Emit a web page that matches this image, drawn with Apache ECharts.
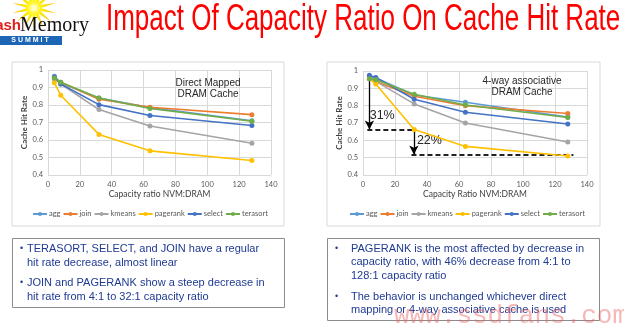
<!DOCTYPE html>
<html><head><meta charset="utf-8">
<script src="https://cdn.jsdelivr.net/npm/echarts@6/dist/echarts.min.js"></script>
<style>html,body{margin:0;padding:0;background:#fff}#c{width:624px;height:329px}</style>
</head><body><div id="c"></div>
<script>
// ---- data ----
const capacityRatios = [4, 8, 32, 64, 128];
const seriesNames = ['agg', 'join', 'kmeans', 'pagerank', 'select', 'terasort'];
const seriesColors = ['#5B9BD5', '#ED7D31', '#A5A5A5', '#FFC000', '#4472C4', '#70AD47'];
const xTicks = [0, 20, 40, 60, 80, 100, 120, 140];
const yTicks = [0.4, 0.5, 0.6, 0.7, 0.8, 0.9, 1];

// Direct mapped DRAM cache
const directAgg      = [0.965, 0.925, 0.840, 0.785, 0.710];
const directJoin     = [0.950, 0.930, 0.833, 0.787, 0.745];
const directKmeans   = [0.950, 0.920, 0.774, 0.680, 0.581];
const directPagerank = [0.927, 0.856, 0.632, 0.538, 0.483];
const directSelect   = [0.960, 0.920, 0.802, 0.740, 0.683];
const directTerasort = [0.955, 0.930, 0.840, 0.780, 0.707];

// 4-way associative DRAM cache
const assocAgg      = [0.965, 0.960, 0.862, 0.820, 0.735];
const assocJoin     = [0.955, 0.940, 0.854, 0.800, 0.755];
const assocKmeans   = [0.955, 0.940, 0.810, 0.700, 0.590];
const assocPagerank = [0.955, 0.925, 0.662, 0.565, 0.510];
const assocSelect   = [0.975, 0.963, 0.837, 0.762, 0.694];
const assocTerasort = [0.955, 0.950, 0.866, 0.804, 0.732];

// annotation values (right chart)
const drop1 = {x: 4, from: 0.955, to: 0.662, label: '31%', labelAt: [12, 0.742]};
const drop2 = {x: 31.8, from: 0.662, to: 0.518, label: '22%', labelAt: [41.5, 0.596]};
const dash1 = {from: 2.7, to: 32.8, y: 0.662};
const dash2 = {from: 30.3, to: 131.5, y: 0.518};

const directSets = [directAgg, directJoin, directKmeans, directPagerank, directSelect, directTerasort];
const assocSets  = [assocAgg, assocJoin, assocKmeans, assocPagerank, assocSelect, assocTerasort];

const chartFont = 'Lato';
const bodyBlue = '#1F3A93';

function pairs(vals) { return capacityRatios.map((x, i) => [x, vals[i]]); }

function lineSeries(vals, i, axisIdx) {
  return {
    type: 'line', name: seriesNames[i], xAxisIndex: axisIdx, yAxisIndex: axisIdx,
    data: pairs(vals), color: seriesColors[i],
    symbol: 'circle', symbolSize: 5, showSymbol: true,
    lineStyle: {width: 1.6}, emphasis: {disabled: true}, z: 2 + i
  };
}

const series = [];
directSets.forEach((v, i) => series.push(lineSeries(v, i, 0)));
assocSets.forEach((v, i) => series.push(lineSeries(v, i, 1)));

// annotation: attach to right pagerank series
const annot = series[6 + 3];
const arrowStyle = {color: '#000', width: 1.3, type: 'solid'};
const dashStyle = {color: '#222', width: 1.8, type: [5, 3]};
annot.markLine = {
  silent: true, animation: false, symbol: ['none', 'arrow'], symbolSize: [7, 9],
  label: {show: false}, emphasis: {disabled: true},
  data: [
    [{coord: [drop1.x, drop1.from], lineStyle: arrowStyle}, {coord: [drop1.x, drop1.to]}],
    [{coord: [drop2.x, drop2.from], lineStyle: arrowStyle}, {coord: [drop2.x, drop2.to]}],
    [{coord: [dash1.from, dash1.y], lineStyle: dashStyle, symbol: 'none'}, {coord: [dash1.to, dash1.y], symbol: 'none'}],
    [{coord: [dash2.from, dash2.y], lineStyle: dashStyle, symbol: 'none'}, {coord: [dash2.to, dash2.y], symbol: 'none'}]
  ]
};
annot.markPoint = {
  silent: true, animation: false, symbol: 'rect', symbolSize: 1,
  itemStyle: {color: 'rgba(0,0,0,0)'},
  label: {show: true, position: 'inside', formatter: p => p.name, color: '#262626',
          fontFamily: 'Liberation Sans', fontSize: 12.5},
  data: [
    {name: drop1.label, coord: drop1.labelAt},
    {name: drop2.label, coord: drop2.labelAt}
  ]
};

function xAxisCfg(grid, name) {
  return {
    gridIndex: grid, type: 'value', min: xTicks[0], max: xTicks[xTicks.length - 1], interval: 20,
    name: name, nameLocation: 'middle', nameGap: 15,
    nameTextStyle: {fontFamily: chartFont, fontSize: 8.5, color: '#404040'},
    axisLine: {show: false}, axisTick: {show: false},
    axisLabel: {fontFamily: chartFont, fontSize: 7.5, color: '#595959', margin: 6},
    splitLine: {show: true, lineStyle: {color: '#D9D9D9', width: 1}}
  };
}
function yAxisCfg(grid) {
  return {
    gridIndex: grid, type: 'value', min: yTicks[0], max: yTicks[yTicks.length - 1], interval: 0.1,
    name: 'Cache Hit Rate', nameLocation: 'middle', nameGap: 19, nameRotate: 90,
    nameTextStyle: {fontFamily: chartFont, fontSize: 8, color: '#404040', fontWeight: 'bold'},
    axisLine: {show: false}, axisTick: {show: false},
    axisLabel: {fontFamily: chartFont, fontSize: 7.5, color: '#595959', margin: 5,
                formatter: v => String(Math.round(v * 10) / 10)},
    splitLine: {show: true, lineStyle: {color: '#D9D9D9', width: 1}}
  };
}

function legendCfg(left) {
  return {
    data: seriesNames, left: left, top: 210, padding: 0, itemWidth: 14, itemHeight: 5, itemGap: 2,
    selectedMode: false,
    textStyle: {fontFamily: chartFont, fontSize: 7.5, color: '#595959', padding: [0, 0, 0, -3]}
  };
}

// star burst for the logo
function starPoints(cx, cy, rOut, rIn, n) {
  const pts = [];
  for (let k = 0; k < n * 2; k++) {
    const r = k % 2 === 0 ? rOut : rIn;
    const a = Math.PI * k / n - Math.PI / 2;
    pts.push([cx + r * Math.cos(a), cy + r * Math.sin(a)]);
  }
  return pts;
}

const txt = (x, y, text, style, z) => ({type: 'text', x: x, y: y, z: z || 10, silent: true, style: Object.assign({text: text}, style)});
const bodyStyle = {fontFamily: 'Liberation Sans', fontSize: 11, fill: bodyBlue, lineHeight: 14, verticalAlign: 'top'};
const bodyStyleR = Object.assign({}, bodyStyle, {lineHeight: 13.6});

const graphic = [
  // chart frames
  {type: 'rect', shape: {x: 12, y: 62, width: 272, height: 164}, style: {fill: 'none', stroke: '#D9D9D9', lineWidth: 1}, silent: true, z: -1},
  {type: 'rect', shape: {x: 327, y: 62, width: 273, height: 164}, style: {fill: 'none', stroke: '#D9D9D9', lineWidth: 1}, silent: true, z: -1},
  // text frames
  {type: 'rect', shape: {x: 12.5, y: 238.5, width: 272, height: 69}, style: {fill: 'none', stroke: '#8C8C8C', lineWidth: 1}, silent: true},
  {type: 'rect', shape: {x: 327.5, y: 238.5, width: 272, height: 82}, style: {fill: 'none', stroke: '#8C8C8C', lineWidth: 1}, silent: true},
  // chart inner titles
  txt(208, 77, 'Direct Mapped\nDRAM Cache', {fontFamily: 'Liberation Sans', fontSize: 10, fill: '#262626', align: 'center', verticalAlign: 'top', lineHeight: 11.5}, 20),
  txt(522, 75, '4-way associative\nDRAM Cache', {fontFamily: 'Liberation Sans', fontSize: 10, fill: '#262626', align: 'center', verticalAlign: 'top', lineHeight: 11.5}, 20),
  // slide title
  {type: 'text', x: 106, y: 20, scaleX: 0.722, silent: true,
   style: {text: 'Impact Of Capacity Ratio On Cache Hit Rate', fontFamily: 'Liberation Sans', fontSize: 36, fill: '#FF0000', align: 'left', verticalAlign: 'middle'}},
  // logo
  {type: 'polygon', shape: {points: starPoints(34, 8, 22, 7, 14)}, silent: true,
   style: {fill: {type: 'radial', x: 0.5, y: 0.5, r: 0.5, colorStops: [{offset: 0, color: '#FFFFF0'}, {offset: 0.35, color: '#FFF200'}, {offset: 1, color: '#F7B500'}]}}},
  txt(21, 26, 'ash', {fontFamily: 'Liberation Sans', fontWeight: 'bold', fontSize: 15, fill: '#E0201B', align: 'right', verticalAlign: 'middle'}),
  txt(20, 26, 'Memory', {fontFamily: 'Liberation Serif', fontSize: 20, fill: '#111', align: 'left', verticalAlign: 'middle'}),
  {type: 'rect', shape: {x: 0, y: 36, width: 62, height: 9}, style: {fill: '#1C66B5'}, silent: true},
  txt(30, 40.5, 'S U M M I T', {fontFamily: 'Liberation Sans', fontWeight: 'bold', fontSize: 7, fill: '#fff', align: 'center', verticalAlign: 'middle'}),
  // left bullets
  txt(20, 242, '•', Object.assign({}, bodyStyle, {fontSize: 9})),
  txt(27, 242, 'TERASORT, SELECT, and JOIN have a regular\nhit rate decrease, almost linear', bodyStyle),
  txt(20, 276, '•', Object.assign({}, bodyStyle, {fontSize: 9})),
  txt(27, 276, 'JOIN and PAGERANK show a steep decrease in\nhit rate from 4:1 to 32:1 capacity ratio', bodyStyle),
  // right bullets
  txt(335, 242, '•', Object.assign({}, bodyStyleR, {fontSize: 9})),
  txt(351, 242, 'PAGERANK is the most affected by decrease in\ncapacity ratio, with 46% decrease from 4:1 to\n128:1 capacity ratio', bodyStyleR),
  txt(335, 290, '•', Object.assign({}, bodyStyleR, {fontSize: 9})),
  txt(351, 290, 'The behavior is unchanged whichever direct\nmapping or 4-way associative cache is used', bodyStyleR),
  // watermark
  txt(394, 316, 'www.ssdfans.com', {fontFamily: 'Liberation Mono', fontSize: 26, fill: 'rgba(235,95,95,0.45)', align: 'left', verticalAlign: 'middle'}, 30)
];

const chart = echarts.init(document.getElementById('c'), null, {renderer: 'canvas'});
chart.setOption({
  animation: false,
  backgroundColor: '#fff',
  grid: [
    {left: 48, top: 70, width: 223, height: 105},
    {left: 363, top: 71, width: 224, height: 104}
  ],
  xAxis: [xAxisCfg(0, 'Capacity ratio NVM:DRAM'), xAxisCfg(1, 'Capacity Ratio NVM:DRAM')],
  yAxis: [yAxisCfg(0), yAxisCfg(1)],
  legend: [legendCfg(32), legendCfg(349)],
  series: series,
  graphic: graphic
});
</script>
</body></html>
